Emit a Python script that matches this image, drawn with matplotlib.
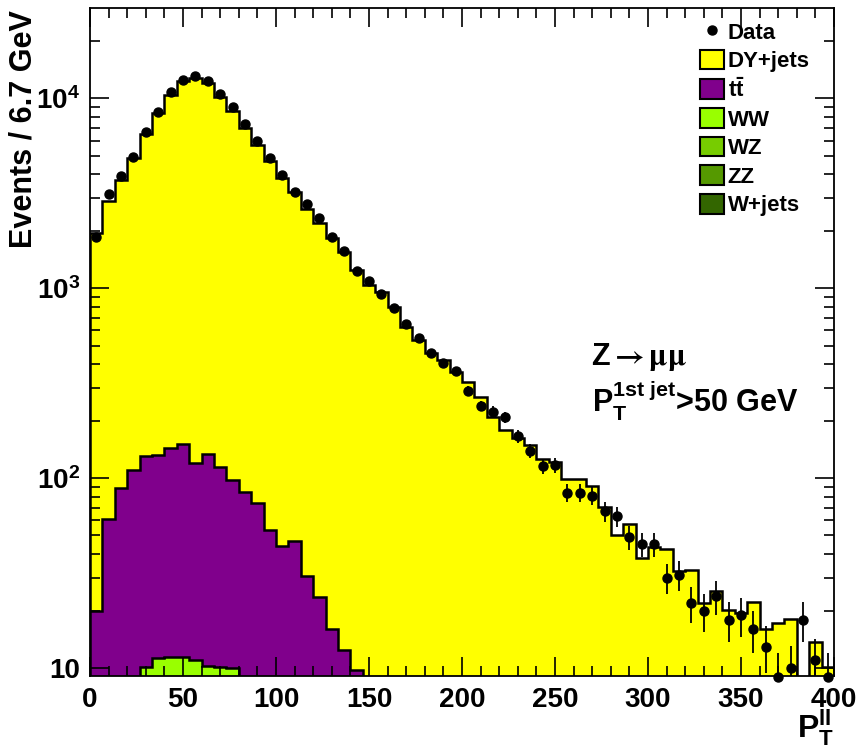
import numpy as np
import matplotlib
matplotlib.use("Agg")
import matplotlib.pyplot as plt
from matplotlib.lines import Line2D
from matplotlib.patches import Patch
from matplotlib.ticker import FixedLocator, FixedFormatter, MultipleLocator, NullFormatter

plt.rcParams['font.family'] = ['Liberation Sans', 'DejaVu Sans']
plt.rcParams['font.weight'] = 'bold'
plt.rcParams['mathtext.fontset'] = 'custom'
plt.rcParams['mathtext.rm'] = 'Liberation Sans:bold'
plt.rcParams['mathtext.bf'] = 'Liberation Sans:bold'
plt.rcParams['mathtext.it'] = 'Liberation Sans:bold:italic'
plt.rcParams['mathtext.sf'] = 'Liberation Sans:bold'

# ---------------- data ----------------
n_bins = 60
pt_low, pt_high = 0.0, 400.0

data_counts = [1870, 3130, 3900, 4930, 6620, 8440, 10760, 12500, 13100, 12330,
               10500, 9030, 7330, 5960, 4830, 3950, 3200, 2780, 2340, 1870,
               1570, 1233, 1097, 929, 790, 647, 550, 455, 406, 367,
               288, 241, 224, 209, 166, 139, 116, 117, 84, 84,
               81, 67, 63, 49, 45, 45, 30, 31, 22, 20,
               24, 18, 19, 16, 13, 9, 10, 18, 11, 9]

dy_jets = [1930, 2809, 3612, 4719, 6359, 8207, 10256, 12229, 12619, 11946,
           10006, 8512, 6916, 5606, 4627, 3786, 3153, 2599, 2186, 1829,
           1548, 1237, 1040, 959, 800, 628, 534, 455, 420, 364,
           322, 267, 211, 180, 163, 150, 127, 122, 99, 99,
           91, 71, 50.4, 57.3, 38.2, 43.6, 42.3, 32.6, 32.9, 22,
           25.6, 20.3, 19.5, 22.4, 16.1, 17.3, 18.1, 0, 13.8, 10.1]

ttbar = [19.9, 60.8, 88.5, 110.6, 120.9, 121.7, 132.6, 139.6, 109.9, 123.7,
         103.9, 88.0, 84.4, 74.4, 53.4, 44.2, 46.9, 30.7, 23.8, 16.0,
         12.5, 9.8] + [0] * 38

ww = [0, 0, 0, 0, 10.1, 11.3, 11.4, 11.4, 11.1, 10.3, 10.1, 10.0] + [0] * 48
wz = [0] * 60
zz = [0] * 60
wjets = [0] * 60

labels = ['DY+jets', r'$\mathrm{t\bar{t}}$', 'WW', 'WZ', 'ZZ', 'W+jets']
colors = ['#ffff00', '#80008c', '#99ff00', '#77cc00', '#559900', '#336600']

# ---------------- figure ----------------
fig = plt.figure(figsize=(8.62, 7.49), dpi=100)
ax = fig.add_axes([90 / 862, 1 - 676 / 749, 744 / 862, (676 - 8.3) / 749])

edges = np.linspace(pt_low, pt_high, n_bins + 1)
centers = 0.5 * (edges[:-1] + edges[1:])

# stack order: bottom -> top
stack_vals = [wjets, zz, wz, ww, ttbar, dy_jets]
stack_cols = [colors[5], colors[4], colors[3], colors[2], colors[1], colors[0]]
cum = np.zeros(n_bins)
tops = []
for v in stack_vals:
    cum = cum + np.asarray(v, float)
    tops.append(cum.copy())

base = 1e-2
for k in range(len(tops) - 1, -1, -1):
    top = np.clip(tops[k], base, None)
    ax.stairs(top, edges, baseline=base, fill=True, facecolor=stack_cols[k],
              edgecolor='black', linewidth=1.8, zorder=1 + 0.1 * (len(tops) - k))

d = np.asarray(data_counts, float)
eb = ax.errorbar(centers, d, yerr=np.sqrt(d), fmt='o', color='black', ms=6.5,
                 elinewidth=1.3, capsize=0, zorder=5)
eb[0].set_clip_on(False)

ax.set_yscale('log')
ax.set_xlim(pt_low, pt_high)
ax.set_ylim(9.1, 2.98e4)
ax.set_axisbelow(False)

ax.xaxis.set_major_locator(MultipleLocator(50))
ax.xaxis.set_minor_locator(MultipleLocator(10))
ax.yaxis.set_major_locator(FixedLocator([10, 100, 1000, 10000]))
ax.yaxis.set_major_formatter(FixedFormatter(['10', r'$10^{2}$', r'$10^{3}$', r'$10^{4}$']))
ax.yaxis.set_minor_locator(FixedLocator([m * 10 ** e for e in range(1, 5) for m in range(2, 10)]))
ax.yaxis.set_minor_formatter(NullFormatter())

ax.tick_params(which='both', direction='in', top=True, right=True, width=1.2,
               labelsize=20, colors='black')
ax.tick_params(which='major', length=14)
ax.tick_params(which='minor', length=7)
ax.tick_params(axis='x', which='major', pad=8)
ax.tick_params(axis='y', which='major', pad=7)
for s in ax.spines.values():
    s.set_linewidth(1.3)

fig.text(24 / 862, 1 - 10 / 749, 'Events / 6.7 GeV', rotation=90, ha='center',
         va='top', fontsize=22, fontweight='bold')
fig.text(834 / 862, 1 - 738 / 749, r'P$_{\mathrm{T}}^{\mathrm{ll}}$', ha='right',
         va='baseline', fontsize=23, fontweight='bold')

fig.text(591 / 862, 1 - 365 / 749, r'Z$\rightarrow\mathrm{\mu\mu}$', fontsize=22,
         fontweight='bold', va='baseline', math_fontfamily='stix')
fig.text(592 / 862, 1 - 413 / 749, r'P$_{\mathrm{T}}^{\mathrm{1st\ jet}}$>50 GeV',
         fontsize=22, fontweight='bold', va='baseline')

handles = [Line2D([], [], marker='o', ls='none', color='black', ms=6.5)]
handles += [Patch(facecolor=c, edgecolor='black', linewidth=1.5) for c in colors]
fig.legend(handles, ['Data'] + labels, loc='upper left',
           bbox_to_anchor=(700 / 862, 1 - 21 / 749), frameon=False, fontsize=16,
           handlelength=1.1, handleheight=1.0, handletextpad=0.15,
           labelspacing=0.27, borderpad=0, borderaxespad=0)

fig.savefig('out.png', dpi=100)
